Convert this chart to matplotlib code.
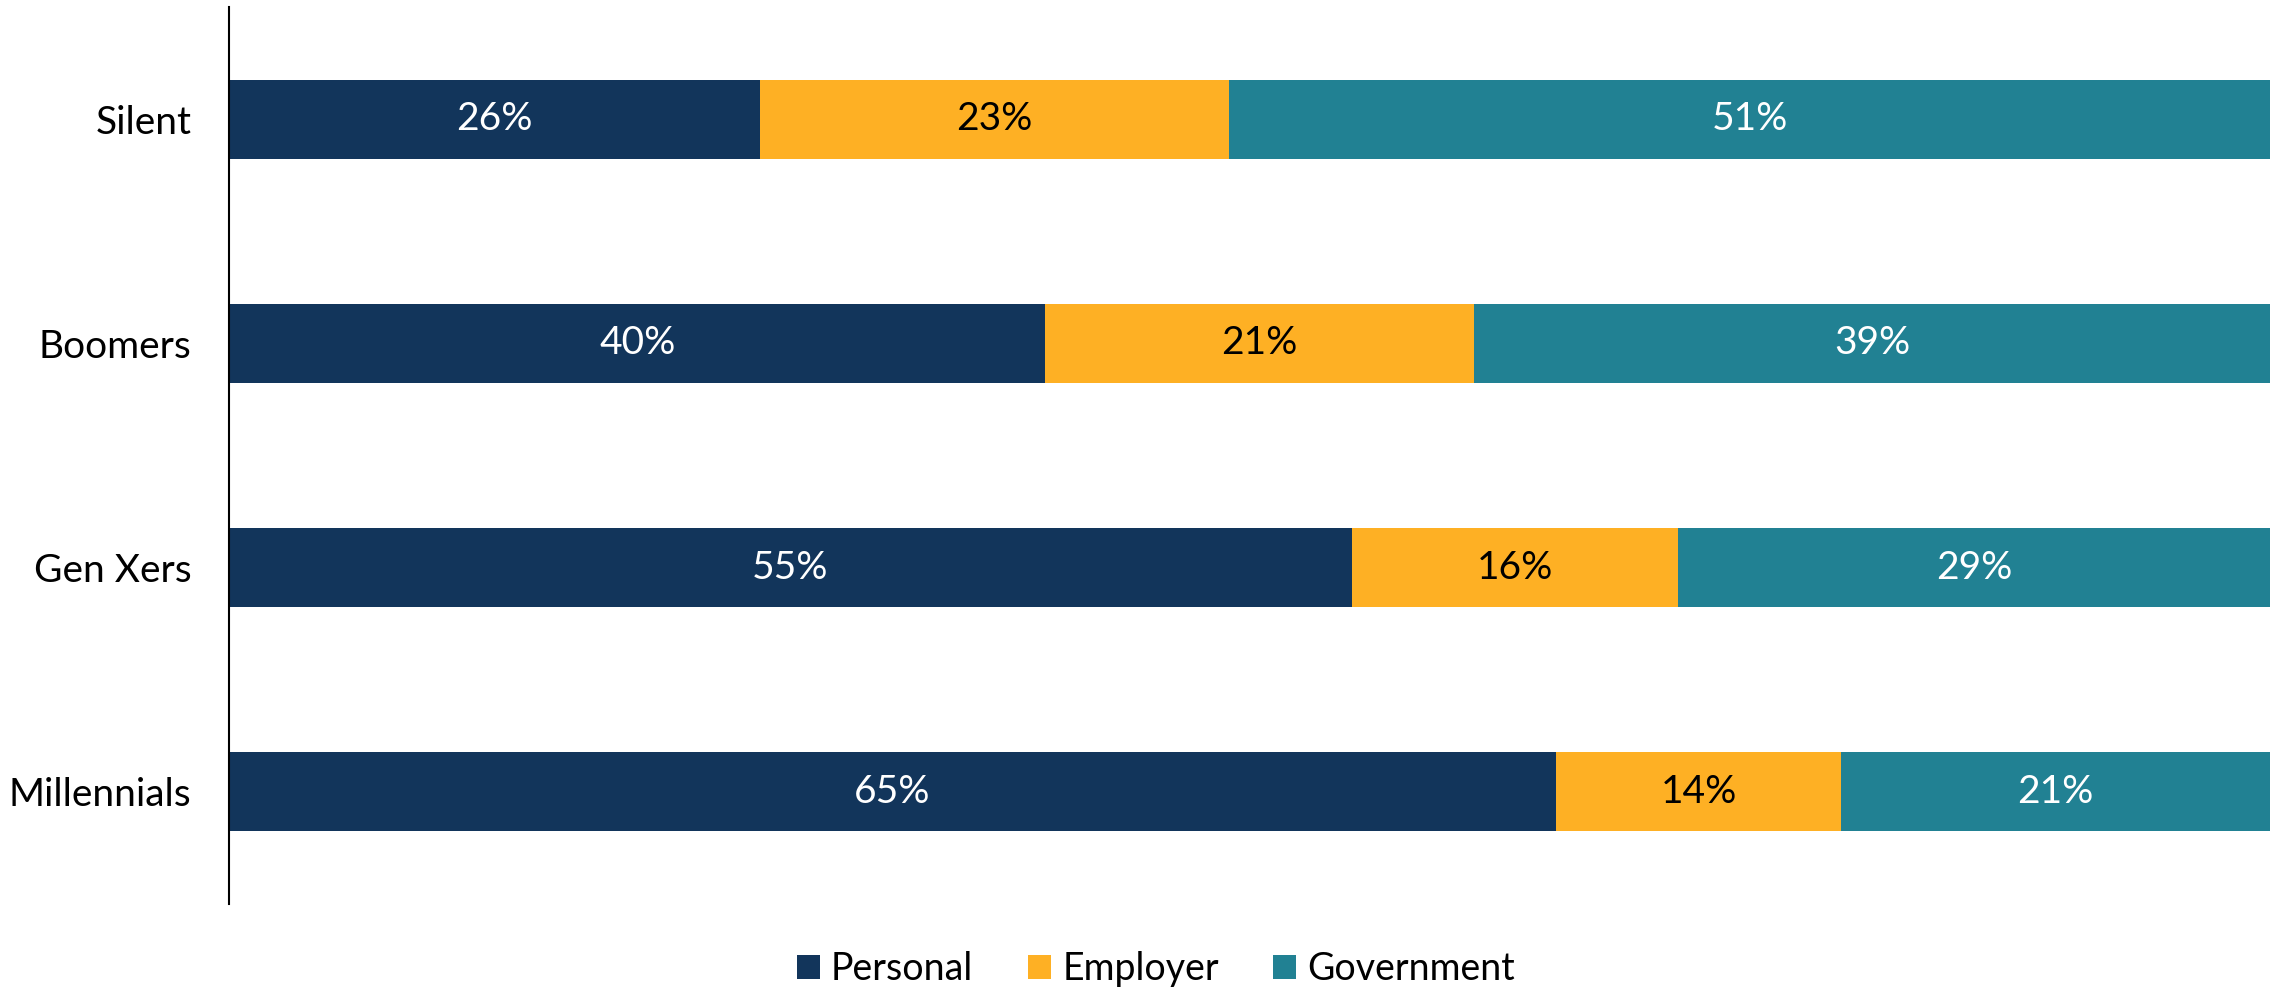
import numpy as np
import matplotlib as mpl
mpl.use("Agg")
import matplotlib.pyplot as plt

# Share of retirement income source by generation
generations = ["Silent", "Boomers", "Gen Xers", "Millennials"]
personal = [26, 40, 55, 65]
employer = [23, 21, 16, 14]
government = [51, 39, 29, 21]

series = ["Personal", "Employer", "Government"]
colors = ["#12355b", "#feb024", "#218193"]
text_colors = ["white", "black", "white"]

mpl.rc("font", family=["Lato", "DejaVu Sans"])

fig = plt.figure(figsize=(22.8, 9.89), dpi=100)
ax = fig.add_axes([229/2280, 85/989, (2270-229)/2280, (904-7)/989])

y = np.arange(len(generations))
left = np.zeros(len(generations))
for name, vals, c, tc in zip(series, [personal, employer, government], colors, text_colors):
    vals = np.array(vals, dtype=float)
    bars = ax.barh(y, vals, left=left, height=0.352, color=c, label=name)
    for b, v in zip(bars, vals):
        ax.text(b.get_x() + b.get_width()/2, b.get_y() + b.get_height()/2,
                "%d%%" % v, ha="center", va="center", color=tc, fontsize=28)
    left += vals

ax.set_xlim(0, 100)
ax.set_ylim(len(generations) - 0.5, -0.5)
ax.set_yticks(y)
ax.set_yticklabels(generations, fontsize=28)
ax.tick_params(axis="y", length=0, pad=27)
ax.set_xticks([])
for s in ["top", "right", "bottom"]:
    ax.spines[s].set_visible(False)
ax.spines["left"].set_linewidth(1.5)

leg = fig.legend(loc="center", bbox_to_anchor=(0.507, 0.02), ncol=3, frameon=False,
                 fontsize=27, handlelength=0.62, handleheight=0.62, handletextpad=0.3,
                 columnspacing=1.45)

fig.savefig("out.png", dpi=100)
